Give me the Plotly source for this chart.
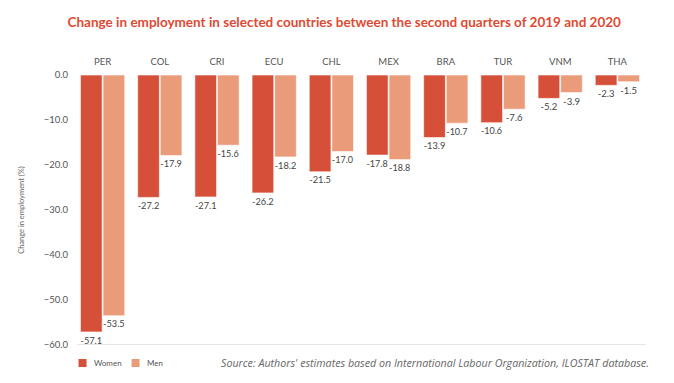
import plotly.graph_objects as go

countries = ["PER", "COL", "CRI", "ECU", "CHL", "MEX", "BRA", "TUR", "VNM", "THA"]
women = [-57.1, -27.2, -27.1, -26.2, -21.5, -17.8, -13.9, -10.6, -5.2, -2.3]
men = [-53.5, -17.9, -15.6, -18.2, -17.0, -18.8, -10.7, -7.6, -3.9, -1.5]
y_ticks = [0, -10, -20, -30, -40, -50, -60]
series_names = ["Women", "Men"]

women_color = "#D64F38"
men_color = "#EA9B7A"
font_family = "Lato, 'Open Sans', sans-serif"

fig = go.Figure()
fig.add_trace(go.Bar(
    name=series_names[0], x=countries, y=women, marker_color=women_color,
    marker_line=dict(color="rgba(255,255,255,0.6)", width=1),
    text=[f"{v:.1f}" for v in women], textposition="outside",
    textfont=dict(size=9.5, color="#444444"), cliponaxis=False,
))
fig.add_trace(go.Bar(
    name=series_names[1], x=countries, y=men, marker_color=men_color,
    marker_line=dict(color="rgba(255,255,255,0.6)", width=1),
    text=[f"{v:.1f}" for v in men], textposition="outside",
    textfont=dict(size=9.5, color="#444444"), cliponaxis=False,
))

fig.update_layout(
    width=658, height=367,
    margin=dict(l=65.5, r=20, t=67, b=30, autoexpand=False),
    paper_bgcolor="white", plot_bgcolor="white",
    font=dict(family=font_family, color="#555555"),
    barmode="group", bargap=0.21, bargroupgap=0.04,
    title=dict(
        text="<b>Change in employment in selected countries between the second quarters of 2019 and 2020</b>",
        x=0.511, xanchor="center", y=0.962, yanchor="middle",
        font=dict(size=13.5, color="#E04A33", family=font_family),
    ),
    xaxis=dict(side="top", showline=False, showgrid=False, ticks="",
               ticklabelstandoff=7, automargin=False,
               tickfont=dict(size=9.5, color="#555555"), fixedrange=True),
    yaxis=dict(range=[-60, 0], tickvals=y_ticks, tickformat=".1f",
               showgrid=False, zeroline=False, showline=False,
               automargin=False,
               tickfont=dict(size=9.5, color="#555555"),
               ticklabelstandoff=5,
               title=dict(text="Change in employment (%)", font=dict(size=7.5, color="#666666"), standoff=18)),
    showlegend=False,
)

# bottom axis line
fig.add_shape(type="line", xref="paper", yref="y", x0=0.005, x1=1.0, y0=-60, y1=-60,
              line=dict(color="#E6E6E6", width=2))

# legend (manual, compact)
legend_items = [(series_names[0], women_color, 0.0079), (series_names[1], men_color, 0.1006)]
for name, color, x0 in legend_items:
    fig.add_shape(type="rect", xref="paper", yref="paper",
                  x0=x0, x1=x0 + 0.014, y0=-0.0815, y1=-0.0519,
                  fillcolor=color, line=dict(width=0))
    fig.add_annotation(text=name, xref="paper", yref="paper",
                       x=x0 + 0.0235, y=-0.0667, xanchor="left", yanchor="middle",
                       showarrow=False, font=dict(size=8, color="#555555"))

fig.add_annotation(
    text="<i>Source: Authors' estimates based on International Labour Organization, ILOSTAT database.</i>",
    xref="paper", yref="paper", x=1.008, y=-0.067, xanchor="right", yanchor="middle",
    showarrow=False, font=dict(size=10.7, color="#666666", family="'Open Sans', sans-serif"),
)

fig.write_html("out.html")
